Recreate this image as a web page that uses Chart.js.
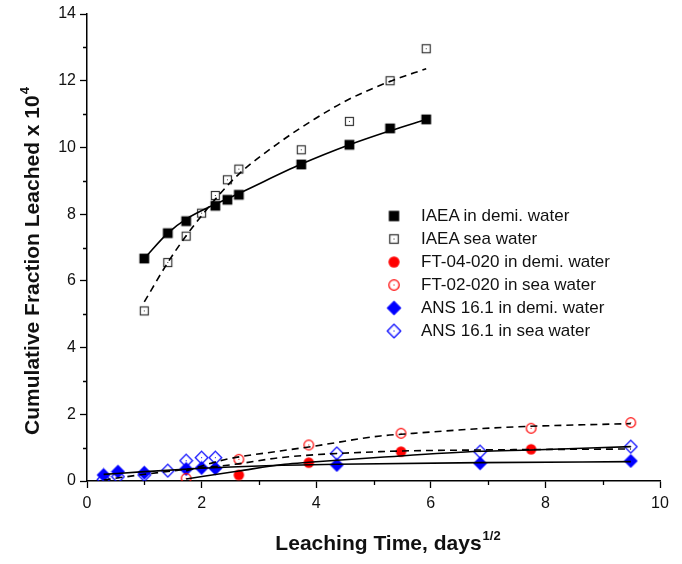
<!DOCTYPE html>
<html>
<head>
<meta charset="utf-8">
<script src="https://cdn.jsdelivr.net/npm/chart.js@4.4.0/dist/chart.umd.min.js"></script>
<style>
    body { margin: 0; background: #fff; }
    #wrap { position: relative; width: 682px; height: 564px; }
    #legend { position: absolute; left: 386px; top: 204px; font: 17px Arial, "Liberation Sans", sans-serif; color: #111; }
    #legend .row { height: 23.1px; display: flex; align-items: center; }
    #legend canvas { width: 16px; height: 16px; margin-right: 19px; }
</style>
</head>
<body>
<div id="wrap">
    <canvas id="leachChart" width="682" height="564"></canvas>
    <div id="legend"></div>
</div>
<script>
// measured points (x = sqrt(days), y = CFL x 10^4)
const iaeaDemiX = [1.00, 1.41, 1.73, 2.24, 2.45, 2.65, 3.74, 4.58, 5.29, 5.92];
const iaeaDemiY = [6.67, 7.43, 7.79, 8.25, 8.43, 8.58, 9.49, 10.08, 10.57, 10.84];
const iaeaSeaX = [1.00, 1.41, 1.73, 2.00, 2.24, 2.45, 2.65, 3.74, 4.58, 5.29, 5.92];
const iaeaSeaY = [5.10, 6.55, 7.34, 8.03, 8.56, 9.03, 9.35, 9.93, 10.78, 12.00, 12.96];
const ftDemiX = [2.65, 3.87, 5.48, 7.75];
const ftDemiY = [0.18, 0.55, 0.88, 0.95];
const ftSeaX = [1.73, 2.65, 3.87, 5.48, 7.75, 9.49];
const ftSeaY = [0.08, 0.65, 1.08, 1.43, 1.58, 1.75];
const ansDemiX = [0.29, 0.54, 1.00, 1.73, 2.00, 2.24, 4.36, 6.86, 9.49];
const ansDemiY = [0.18, 0.28, 0.25, 0.36, 0.39, 0.38, 0.48, 0.53, 0.60];
const ansSeaX = [0.29, 0.54, 1.00, 1.41, 1.73, 2.00, 2.24, 4.36, 6.86, 9.49];
const ansSeaY = [0.05, 0.13, 0.18, 0.31, 0.61, 0.70, 0.70, 0.83, 0.88, 1.03];

// fitted curves
const fitIaeaDemiX = [1.00, 1.41, 1.73, 2.24, 2.65, 3.74, 4.58, 5.29, 5.92];
const fitIaeaDemiY = [6.67, 7.43, 7.85, 8.30, 8.62, 9.50, 10.08, 10.50, 10.84];
const fitIaeaSeaX = [1.00, 1.41, 1.73, 2.24, 2.65, 3.40, 3.98, 4.58, 5.29, 5.92];
const fitIaeaSeaY = [5.37, 6.55, 7.35, 8.45, 9.20, 10.20, 10.86, 11.45, 11.98, 12.36];
const fitAnsDemiX = [0.29, 1.00, 2.00, 3.00, 4.36, 6.86, 9.49];
const fitAnsDemiY = [0.20, 0.28, 0.38, 0.45, 0.50, 0.55, 0.58];
const fitFtDemiX = [1.73, 2.65, 3.45, 3.87, 5.12, 6.86, 7.75, 9.49];
const fitFtDemiY = [0.06, 0.30, 0.50, 0.56, 0.71, 0.89, 0.93, 1.03];
const fitAnsSeaX = [0.29, 1.00, 1.73, 2.58, 3.37, 5.12, 6.86, 9.49];
const fitAnsSeaY = [0.03, 0.20, 0.35, 0.50, 0.70, 0.88, 0.93, 0.96];
const fitFtSeaX = [1.73, 2.38, 3.37, 3.87, 5.12, 5.48, 6.86, 7.75, 9.49];
const fitFtSeaY = [0.30, 0.63, 0.90, 1.02, 1.35, 1.40, 1.57, 1.64, 1.72];

const minorXTicks = [1, 3, 5, 7, 9];
const minorYTicks = [1, 3, 5, 7, 9, 11, 13];

const xTitle = 'Leaching Time, days';
const xTitleSup = '1/2';
const yTitle = 'Cumulative Fraction Leached x 10';
const yTitleSup = '4';

const FONT = 'Arial, "Liberation Sans", sans-serif';

function toPoints(xs, ys) {
    return xs.map((x, i) => ({ x: x, y: ys[i] }));
}

// little canvases used as point styles (and in the legend)
function makeMarker(kind) {
    const c = document.createElement('canvas');
    c.width = 15;
    c.height = 15;
    const g = c.getContext('2d');
    const m = 7.5;
    g.lineWidth = 1.2;
    if (kind === 'squareFilled') {
        g.fillStyle = '#000';
        g.fillRect(m - 4.9, m - 4.9, 9.8, 9.8);
    } else if (kind === 'squareOpen') {
        g.strokeStyle = '#333';
        g.strokeRect(m - 4, m - 4, 8, 8);
        g.fillStyle = '#333';
        g.fillRect(m - 0.5, m - 0.5, 1, 1);
    } else if (kind === 'circleFilled') {
        g.fillStyle = '#ff0000';
        g.beginPath();
        g.arc(m, m, 5.2, 0, Math.PI * 2);
        g.fill();
    } else if (kind === 'circleOpen') {
        g.strokeStyle = '#ff0000';
        g.beginPath();
        g.arc(m, m, 4.8, 0, Math.PI * 2);
        g.stroke();
        g.fillStyle = '#ff0000';
        g.fillRect(m - 0.5, m - 0.5, 1, 1);
    } else if (kind === 'diamondFilled' || kind === 'diamondOpen') {
        const r = kind === 'diamondFilled' ? 7 : 6.3;
        g.beginPath();
        g.moveTo(m, m - r);
        g.lineTo(m + r, m);
        g.lineTo(m, m + r);
        g.lineTo(m - r, m);
        g.closePath();
        if (kind === 'diamondFilled') {
            g.fillStyle = '#0000ff';
            g.fill();
        } else {
            g.strokeStyle = '#0000ff';
            g.stroke();
            g.fillStyle = '#0000ff';
            g.fillRect(m - 0.5, m - 0.5, 1, 1);
        }
    }
    return c;
}

const series = [
    { label: 'IAEA in demi. water', xs: iaeaDemiX, ys: iaeaDemiY, marker: 'squareFilled' },
    { label: 'IAEA sea water', xs: iaeaSeaX, ys: iaeaSeaY, marker: 'squareOpen' },
    { label: 'FT-04-020 in demi. water', xs: ftDemiX, ys: ftDemiY, marker: 'circleFilled' },
    { label: 'FT-02-020 in sea water', xs: ftSeaX, ys: ftSeaY, marker: 'circleOpen' },
    { label: 'ANS 16.1 in demi. water', xs: ansDemiX, ys: ansDemiY, marker: 'diamondFilled' },
    { label: 'ANS 16.1 in sea water', xs: ansSeaX, ys: ansSeaY, marker: 'diamondOpen' }
];

const fits = [
    { xs: fitIaeaDemiX, ys: fitIaeaDemiY, dash: [] },
    { xs: fitIaeaSeaX, ys: fitIaeaSeaY, dash: [7, 5] },
    { xs: fitAnsDemiX, ys: fitAnsDemiY, dash: [] },
    { xs: fitFtDemiX, ys: fitFtDemiY, dash: [] },
    { xs: fitAnsSeaX, ys: fitAnsSeaY, dash: [7, 5] },
    { xs: fitFtSeaX, ys: fitFtSeaY, dash: [7, 5] }
];

const datasets = [];
fits.forEach(f => {
    datasets.push({
        data: toPoints(f.xs, f.ys),
        showLine: true,
        borderColor: '#000',
        borderWidth: 1.6,
        borderDash: f.dash,
        pointRadius: 0,
        cubicInterpolationMode: 'monotone',
        order: 0
    });
});
series.forEach(s => {
    datasets.push({
        label: s.label,
        data: toPoints(s.xs, s.ys),
        showLine: false,
        pointStyle: makeMarker(s.marker),
        pointRadius: 6,
        order: 1
    });
});

// minor ticks and the axis titles with superscripts
const axisExtras = {
    id: 'axisExtras',
    afterDraw(chart) {
        const ctx = chart.ctx;
        const area = chart.chartArea;
        const x = chart.scales.x;
        const y = chart.scales.y;
        ctx.save();
        ctx.strokeStyle = '#000';
        ctx.lineWidth = 1.3;
        ctx.beginPath();
        minorXTicks.forEach(v => {
            const px = Math.round(x.getPixelForValue(v)) + 0.5;
            ctx.moveTo(px, area.bottom);
            ctx.lineTo(px, area.bottom + 4);
        });
        minorYTicks.forEach(v => {
            const py = Math.round(y.getPixelForValue(v)) + 0.5;
            ctx.moveTo(area.left, py);
            ctx.lineTo(area.left - 4, py);
        });
        ctx.stroke();

        ctx.fillStyle = '#111';
        ctx.textBaseline = 'alphabetic';
        ctx.textAlign = 'left';
        // x title
        ctx.font = 'bold 21px ' + FONT;
        const w1 = ctx.measureText(xTitle).width;
        ctx.font = 'bold 13px ' + FONT;
        const w2 = ctx.measureText(xTitleSup).width;
        let sx = (area.left + area.right) / 2 + 14 - (w1 + w2) / 2;
        ctx.font = 'bold 21px ' + FONT;
        ctx.fillText(xTitle, sx, 550);
        ctx.font = 'bold 13px ' + FONT;
        ctx.fillText(xTitleSup, sx + w1 + 1, 540);

        // y title, rotated
        ctx.translate(39, (area.top + area.bottom) / 2 + 14);
        ctx.rotate(-Math.PI / 2);
        ctx.font = 'bold 21px ' + FONT;
        const h1 = ctx.measureText(yTitle).width;
        ctx.font = 'bold 13px ' + FONT;
        const h2 = ctx.measureText(yTitleSup).width;
        const sy = -(h1 + h2) / 2;
        ctx.font = 'bold 21px ' + FONT;
        ctx.fillText(yTitle, sy, 0);
        ctx.font = 'bold 13px ' + FONT;
        ctx.fillText(yTitleSup, sy + h1 + 1, -10);
        ctx.restore();
    }
};

const axisCommon = {
    type: 'linear',
    grid: { drawOnChartArea: false, drawTicks: true, tickLength: 7, tickColor: '#000', tickWidth: 1.3 },
    border: { display: true, color: '#000', width: 1.5 },
    ticks: { stepSize: 2, color: '#111', font: { family: FONT, size: 16 } }
};

new Chart(document.getElementById('leachChart').getContext('2d'), {
    type: 'scatter',
    data: { datasets: datasets },
    options: {
        responsive: false,
        animation: false,
        layout: { padding: { left: 0, right: 22, top: 14, bottom: 0 } },
        plugins: { legend: { display: false }, tooltip: { enabled: false } },
        scales: {
            x: Object.assign({}, axisCommon, {
                min: 0, max: 10,
                ticks: Object.assign({}, axisCommon.ticks, { padding: 6 }),
                afterFit: scale => { scale.height = 83; }
            }),
            y: Object.assign({}, axisCommon, {
                min: 0, max: 14,
                ticks: Object.assign({}, axisCommon.ticks, { padding: 4 }),
                afterFit: scale => { scale.width = 87; }
            })
        }
    },
    plugins: [axisExtras]
});

// legend
const legendBox = document.getElementById('legend');
series.forEach(s => {
    const row = document.createElement('div');
    row.className = 'row';
    const mk = makeMarker(s.marker);
    row.appendChild(mk);
    const span = document.createElement('span');
    span.textContent = s.label;
    row.appendChild(span);
    legendBox.appendChild(row);
});
</script>
</body>
</html>
